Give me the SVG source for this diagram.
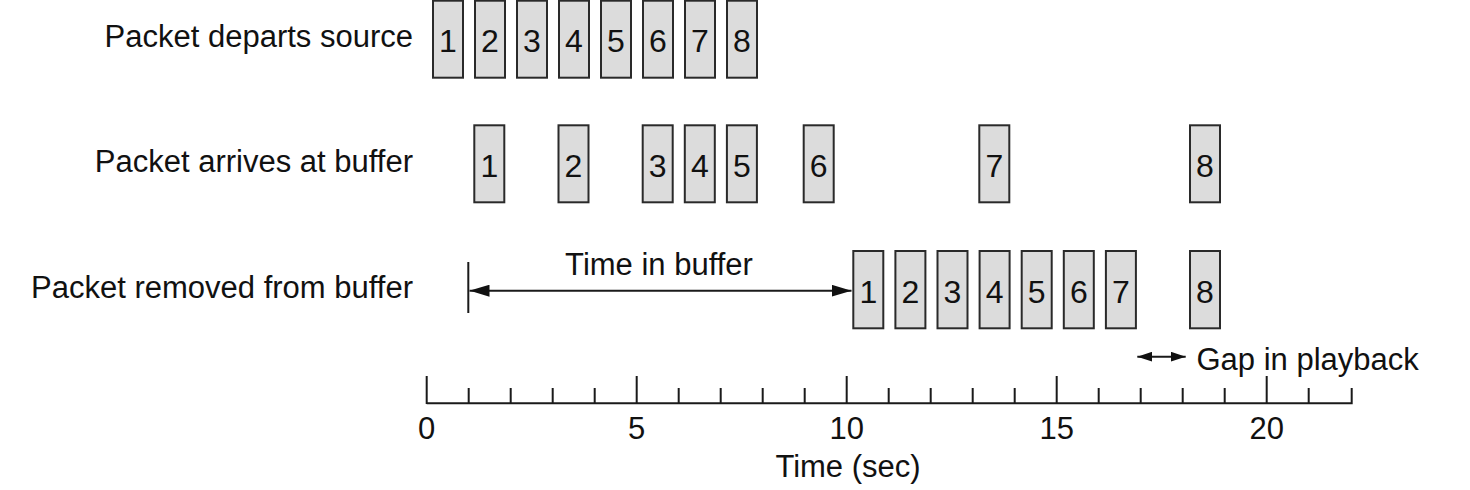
<svg xmlns="http://www.w3.org/2000/svg" width="1470" height="490" viewBox="0 0 1470 490">
<style>
text{font-family:"Liberation Sans",Arial,sans-serif;font-size:31px;fill:#111}
.n{text-anchor:middle}
.d{font-size:32px}
.lbl{text-anchor:end}
.box{fill:#dcdcdc;stroke:#2a2a2a;stroke-width:2}
.ln{stroke:#1a1a1a;stroke-width:2;fill:none}
</style>
<defs>
<marker id="ah" viewBox="0 0 20 12" refX="20" refY="6" markerWidth="20" markerHeight="12" markerUnits="userSpaceOnUse" orient="auto-start-reverse"><path d="M0,0 L20,6 L0,12 Z" fill="#111"/></marker>
<marker id="ahs" viewBox="0 0 15 10" refX="15" refY="5" markerWidth="15" markerHeight="10" markerUnits="userSpaceOnUse" orient="auto-start-reverse"><path d="M0,0 L15,5 L0,10 Z" fill="#111"/></marker>
</defs>
<rect width="1470" height="490" fill="#fff"/>
<g id="labels">
<text class="lbl" x="413" y="47">Packet departs source</text>
<text class="lbl" x="413" y="172">Packet arrives at buffer</text>
<text class="lbl" x="413" y="298">Packet removed from buffer</text>
</g>
<g id="row-depart">
<g id="d1"><rect class="box" x="433" y="0.7" width="30" height="77"/><text class="n d" x="448" y="52">1</text></g>
<g id="d2"><rect class="box" x="475" y="0.7" width="30" height="77"/><text class="n d" x="490" y="52">2</text></g>
<g id="d3"><rect class="box" x="517" y="0.7" width="30" height="77"/><text class="n d" x="532" y="52">3</text></g>
<g id="d4"><rect class="box" x="559" y="0.7" width="30" height="77"/><text class="n d" x="574" y="52">4</text></g>
<g id="d5"><rect class="box" x="601" y="0.7" width="30" height="77"/><text class="n d" x="616" y="52">5</text></g>
<g id="d6"><rect class="box" x="643" y="0.7" width="30" height="77"/><text class="n d" x="658" y="52">6</text></g>
<g id="d7"><rect class="box" x="685" y="0.7" width="30" height="77"/><text class="n d" x="700" y="52">7</text></g>
<g id="d8"><rect class="box" x="727" y="0.7" width="30" height="77"/><text class="n d" x="742" y="52">8</text></g>
</g>
<g id="row-arrive">
<g id="a1"><rect class="box" x="474.3" y="125.3" width="30" height="77"/><text class="n d" x="489.3" y="177">1</text></g>
<g id="a2"><rect class="box" x="558.5" y="125.3" width="30" height="77"/><text class="n d" x="573.5" y="177">2</text></g>
<g id="a3"><rect class="box" x="642.7" y="125.3" width="30" height="77"/><text class="n d" x="657.7" y="177">3</text></g>
<g id="a4"><rect class="box" x="684.8" y="125.3" width="30" height="77"/><text class="n d" x="699.8" y="177">4</text></g>
<g id="a5"><rect class="box" x="726.9" y="125.3" width="30" height="77"/><text class="n d" x="741.9" y="177">5</text></g>
<g id="a6"><rect class="box" x="803.7" y="125.3" width="30" height="77"/><text class="n d" x="818.7" y="177">6</text></g>
<g id="a7"><rect class="box" x="979.3" y="125.3" width="30" height="77"/><text class="n d" x="994.3" y="177">7</text></g>
<g id="a8"><rect class="box" x="1190" y="125.3" width="30" height="77"/><text class="n d" x="1205" y="177">8</text></g>
</g>
<g id="row-remove">
<g id="r1"><rect class="box" x="853.3" y="251" width="30" height="77.3"/><text class="n d" x="868.3" y="303">1</text></g>
<g id="r2"><rect class="box" x="895.4" y="251" width="30" height="77.3"/><text class="n d" x="910.4" y="303">2</text></g>
<g id="r3"><rect class="box" x="937.5" y="251" width="30" height="77.3"/><text class="n d" x="952.5" y="303">3</text></g>
<g id="r4"><rect class="box" x="979.6" y="251" width="30" height="77.3"/><text class="n d" x="994.6" y="303">4</text></g>
<g id="r5"><rect class="box" x="1021.7" y="251" width="30" height="77.3"/><text class="n d" x="1036.7" y="303">5</text></g>
<g id="r6"><rect class="box" x="1063.8" y="251" width="30" height="77.3"/><text class="n d" x="1078.8" y="303">6</text></g>
<g id="r7"><rect class="box" x="1105.9" y="251" width="30" height="77.3"/><text class="n d" x="1120.9" y="303">7</text></g>
<g id="r8"><rect class="box" x="1190" y="251" width="30" height="77.3"/><text class="n d" x="1205" y="303">8</text></g>
</g>
<g id="connectors">
<line class="ln" x1="468.3" y1="262" x2="468.3" y2="313"/>
<line class="ln" x1="469.5" y1="290.7" x2="851.5" y2="290.7" marker-start="url(#ah)" marker-end="url(#ah)"/>
<line class="ln" x1="1137.3" y1="356.7" x2="1185.7" y2="356.7" marker-start="url(#ahs)" marker-end="url(#ahs)"/>
</g>
<g id="annotations">
<text class="n" x="659" y="275">Time in buffer</text>
<text x="1196.5" y="370">Gap in playback</text>
</g>
<g id="axis">
<path class="ln" d="M426.7,403.3 H1352.7 M426.7,376 V404 M468.7,388 V404 M510.7,388 V404 M552.7,388 V404 M594.7,388 V404 M636.7,376 V404 M678.7,388 V404 M720.7,388 V404 M762.7,388 V404 M804.7,388 V404 M846.7,376 V404 M888.7,388 V404 M930.7,388 V404 M972.7,388 V404 M1014.7,388 V404 M1056.7,376 V404 M1098.7,388 V404 M1140.7,388 V404 M1182.7,388 V404 M1224.7,388 V404 M1266.7,376 V404 M1308.7,388 V404 M1351.7,388 V404"/>
<text class="n" x="426.7" y="439">0</text>
<text class="n" x="636.7" y="439">5</text>
<text class="n" x="846.7" y="439">10</text>
<text class="n" x="1056.7" y="439">15</text>
<text class="n" x="1266.7" y="439">20</text>
<text class="n" x="848" y="477">Time (sec)</text>
</g>
</svg>
